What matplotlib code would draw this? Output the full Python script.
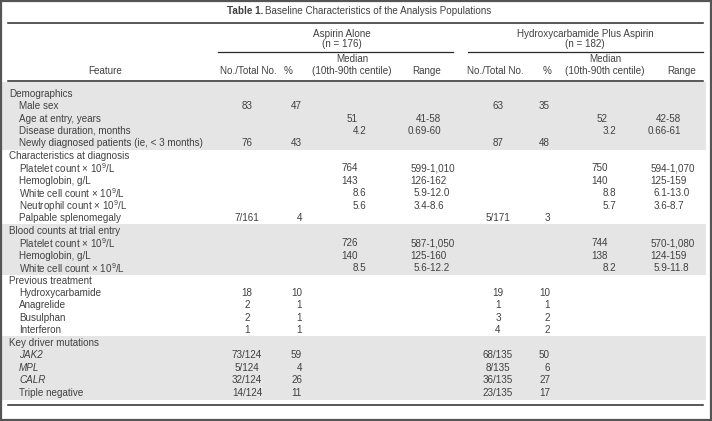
import matplotlib
matplotlib.use("Agg")
import matplotlib.pyplot as plt
from matplotlib.patches import Rectangle

plt.rcParams['font.family'] = ['Liberation Sans', 'DejaVu Sans']
plt.rcParams['mathtext.fontset'] = 'custom'
plt.rcParams['mathtext.rm'] = 'Liberation Sans'
plt.rcParams['mathtext.it'] = 'Liberation Sans:italic'

# table content
title_bold = "Table 1."
title_rest = "Baseline Characteristics of the Analysis Populations"
groups = ["Aspirin Alone", "Hydroxycarbamide Plus Aspirin"]
group_n = ["(n = 176)", "(n = 182)"]

features = [
    "Demographics", "Male sex", "Age at entry, years", "Disease duration, months",
    "Newly diagnosed patients (ie, < 3 months)",
    "Characteristics at diagnosis", "Platelet count \u00d7 10$^9$/L", "Hemoglobin, g/L",
    "White cell count \u00d7 10$^9$/L", "Neutrophil count \u00d7 10$^9$/L", "Palpable splenomegaly",
    "Blood counts at trial entry", "Platelet count \u00d7 10$^9$/L", "Hemoglobin, g/L",
    "White cell count \u00d7 10$^9$/L",
    "Previous treatment", "Hydroxycarbamide", "Anagrelide", "Busulphan", "Interferon",
    "Key driver mutations", "JAK2", "MPL", "CALR", "Triple negative",
]
section_rows = [0, 5, 11, 15, 20]
italic_rows = [21, 22, 23]
shaded_sections = [(0, 4), (11, 14), (20, 24)]

asp_n = ["", "83", "", "", "76", "", "", "", "", "", "7/161", "", "", "", "",
         "", "18", "2", "2", "1", "", "73/124", "5/124", "32/124", "14/124"]
asp_pct = ["", "47", "", "", "43", "", "", "", "", "", "4", "", "", "", "",
           "", "10", "1", "1", "1", "", "59", "4", "26", "11"]
asp_med = ["", "", "51", "4.2", "", "", "764", "143", "8.6", "5.6", "", "", "726", "140", "8.5",
           "", "", "", "", "", "", "", "", "", ""]
asp_rng = ["", "", "41-58", "0.69-60", "", "", "599-1,010", "126-162", "5.9-12.0", "3.4-8.6", "",
           "", "587-1,050", "125-160", "5.6-12.2", "", "", "", "", "", "", "", "", "", ""]

hu_n = ["", "63", "", "", "87", "", "", "", "", "", "5/171", "", "", "", "",
        "", "19", "1", "3", "4", "", "68/135", "8/135", "36/135", "23/135"]
hu_pct = ["", "35", "", "", "48", "", "", "", "", "", "3", "", "", "", "",
          "", "10", "1", "2", "2", "", "50", "6", "27", "17"]
hu_med = ["", "", "52", "3.2", "", "", "750", "140", "8.8", "5.7", "", "", "744", "138", "8.2",
          "", "", "", "", "", "", "", "", "", ""]
hu_rng = ["", "", "42-58", "0.66-61", "", "", "594-1,070", "125-159", "6.1-13.0", "3.6-8.7", "",
          "", "570-1,080", "124-159", "5.9-11.8", "", "", "", "", "", "", "", "", "", ""]

W, H = 712, 421
fig = plt.figure(figsize=(W / 100, H / 100), dpi=100)
ax = fig.add_axes([0, 0, 1, 1])
ax.set_xlim(0, W)
ax.set_ylim(H, 0)
ax.axis('off')

fs = 7.15
tc = '#404040'
rule_c = '#2a2a2a'
shade_c = '#e5e5e5'
kw = dict(fontsize=fs, color=tc, va='baseline')
bl = 3.6  # baseline offset below the visual centre of a line

renderer = fig.canvas.get_renderer()


def text_w(s):
    t = ax.text(0, 0, s, **kw)
    w = t.get_window_extent(renderer).width
    t.remove()
    return w


def put(x, y, s, **extra):
    # mathtext (superscript) lines sit a little high with baseline alignment
    dy = 1.6 if '$' in s else 0
    ax.text(x, y + bl + dy, s, **kw, **extra)


row0, pitch = 93, 12.46
row_y = [row0 + pitch * i for i in range(len(features))]

# border
ax.add_patch(Rectangle((0.8, 0.8), W - 1.6, H - 1.6, fill=False, ec='#555555', lw=1.6))

# shaded bands
for a, b in shaded_sections:
    top = row_y[a] - 6 if a else 82
    ax.add_patch(Rectangle((2, top), 704, row_y[b] + 7.5 - top, color=shade_c, lw=0, zorder=0))

# title
put(227, 10, title_bold, fontweight='bold', ha='left')
put(265, 10, title_rest, ha='left')

# rules
ax.plot([8, 703], [22.5, 22.5], color=rule_c, lw=1.1)
ax.plot([8, 703], [81, 81], color=rule_c, lw=1.1)
ax.plot([8, 703], [405, 405], color=rule_c, lw=1.1)
ax.plot([218, 453], [52, 52], color=rule_c, lw=0.9)
ax.plot([468, 703], [52, 52], color=rule_c, lw=0.9)

# group headers
for gx, g, n in zip([342, 585], groups, group_n):
    put(gx, 33, g, ha='center')
    put(gx, 43, n, ha='center')

# column headers
put(105, 70, "Feature", ha='center')
for nx, px, mx, rx in [(248, 288, 352, 427), (495, 547, 605, 682)]:
    put(nx, 70, "No./Total No.", ha='center')
    put(px, 70, "%", ha='center')
    put(mx, 58, "Median", ha='center')
    put(mx, 70, "(10th-90th centile)", ha='center')
    put(rx, 70, "Range", ha='center')

# body
for i, f in enumerate(features):
    y = row_y[i]
    if i in section_rows:
        put(9, y, f, ha='left')
    else:
        put(19, y, f, ha='left', style='italic' if i in italic_rows else 'normal')

cols = [(asp_n, asp_pct, asp_med, asp_rng, 247, 302, 358, 427),
        (hu_n, hu_pct, hu_med, hu_rng, 498, 550, 608, 667)]
for n_v, p_v, m_v, r_v, nx, px, dx, hx in cols:
    for i in range(len(features)):
        y = row_y[i]
        if n_v[i]:
            put(nx, y, n_v[i], ha='center')
        if p_v[i]:
            put(px, y, p_v[i], ha='right')
        if m_v[i]:
            ip = m_v[i].split('.')[0]
            put(dx - text_w(ip), y, m_v[i], ha='left')
        if r_v[i]:
            left = r_v[i].split('-')[0]
            put(hx - text_w(left), y, r_v[i], ha='left')

fig.savefig('out.png', dpi=100)
